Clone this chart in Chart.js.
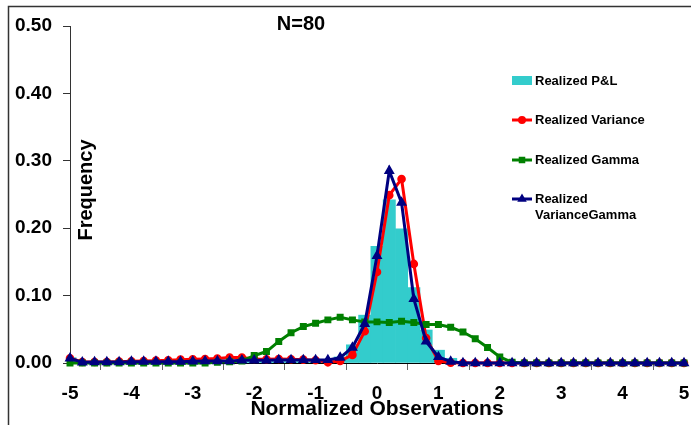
<!DOCTYPE html>
<html>
<head>
<meta charset="utf-8">
<script src="https://cdn.jsdelivr.net/npm/chart.js@4.4.1/dist/chart.umd.min.js"></script>
<style>
    body { margin: 0; background: #fff; }
    #wrap { position: relative; width: 691px; height: 425px; }
</style>
</head>
<body>
<div id="wrap"><canvas id="chartFreq" width="691" height="425"></canvas></div>
<script>
// bin centres (normalized observations)
const observations = [-5, -4.8, -4.6, -4.4, -4.2, -4, -3.8, -3.6, -3.4, -3.2, -3, -2.8, -2.6, -2.4, -2.2, -2,
    -1.8, -1.6, -1.4, -1.2, -1, -0.8, -0.6, -0.4, -0.2, 0, 0.2, 0.4, 0.6, 0.8, 1, 1.2, 1.4, 1.6, 1.8, 2,
    2.2, 2.4, 2.6, 2.8, 3, 3.2, 3.4, 3.6, 3.8, 4, 4.2, 4.4, 4.6, 4.8, 5];

const realizedPnl = [0.008, 0.001, 0.001, 0.001, 0.001, 0.001, 0.002, 0.002, 0.002, 0.002, 0.002, 0.002, 0.002, 0.002, 0.002, 0.002,
    0.002, 0.002, 0.002, 0.002, 0.002, 0.003, 0.009, 0.027, 0.071, 0.173, 0.242, 0.199, 0.112, 0.049, 0.019, 0.007, 0.002, 0.001, 0.001, 0.001,
    0.001, 0.001, 0, 0, 0, 0, 0, 0, 0, 0, 0, 0, 0, 0, 0];

const realizedVariance = [0.007, 0.0015, 0.0015, 0.0015, 0.002, 0.0025, 0.003, 0.0035, 0.004, 0.005, 0.0055, 0.006, 0.0065, 0.008, 0.008, 0.006,
    0.0055, 0.006, 0.0055, 0.005, 0.004, 0.001, 0.003, 0.012, 0.047, 0.135, 0.249, 0.273, 0.147, 0.037, 0.003, 0.0005, 0, 0, 0, 0,
    0, 0, 0, 0, 0, 0, 0, 0, 0, 0, 0, 0, 0, 0, 0];

const realizedGamma = [0, 0, 0, 0, 0, 0, 0, 0, 0, 0, 0, 0, 0.001, 0.002, 0.003, 0.011,
    0.017, 0.032, 0.045, 0.054, 0.059, 0.064, 0.068, 0.064, 0.061, 0.061, 0.060, 0.062, 0.060, 0.057, 0.057, 0.053, 0.046, 0.036, 0.023, 0.009,
    0.001, 0, 0, 0, 0, 0, 0, 0, 0, 0, 0, 0, 0, 0, 0];

const realizedVarianceGamma = [0.007, 0.001, 0.0015, 0.0015, 0.0015, 0.002, 0.002, 0.002, 0.002, 0.002, 0.0025, 0.003, 0.003, 0.003, 0.004, 0.004,
    0.004, 0.0045, 0.0045, 0.0045, 0.0045, 0.0045, 0.008, 0.023, 0.058, 0.159, 0.285, 0.238, 0.095, 0.032, 0.009, 0.002, 0, 0, 0, 0,
    0, 0, 0, 0, 0, 0, 0, 0, 0, 0, 0, 0, 0, 0, 0];

const sampleLabel = 'N=80';
const xTitle = 'Normalized Observations';
const yTitle = 'Frequency';

const FONT = "'Liberation Sans', Arial, sans-serif";

function toPoints(values) {
    return observations.map((x, i) => ({ x: x, y: values[i] }));
}

// marco, textos sueltos y leyenda dibujados a mano
const decorPlugin = {
    id: 'decor',
    beforeDraw(chart) {
        const ctx = chart.ctx;
        ctx.save();
        ctx.strokeStyle = '#333';
        ctx.lineWidth = 1.5;
        ctx.beginPath();
        ctx.moveTo(8.5, 425);
        ctx.lineTo(8.5, 6.5);
        ctx.lineTo(691, 6.5);
        ctx.stroke();
        ctx.restore();
    },
    afterDatasetsDraw(chart) {
        const ctx = chart.ctx;
        ctx.save();
        ctx.fillStyle = '#000';
        ctx.font = 'bold 20px ' + FONT;
        ctx.textAlign = 'center';
        ctx.textBaseline = 'middle';
        ctx.fillText(sampleLabel, 301, 24);

        ctx.save();
        ctx.translate(86, 190);
        ctx.rotate(-Math.PI / 2);
        ctx.fillText(yTitle, 0, 0);
        ctx.restore();

        // leyenda
        const rows = [120, 160, 199];
        ctx.font = 'bold 13px ' + FONT;
        ctx.textAlign = 'left';
        ctx.fillStyle = chart.data.datasets[0].backgroundColor;
        ctx.fillRect(512, 76, 20, 9);
        ctx.fillStyle = '#000';
        ctx.fillText(chart.data.datasets[0].label, 535, 81);

        chart.data.datasets.slice(1).forEach((ds, i) => {
            const y = rows[i];
            ctx.strokeStyle = ds.borderColor;
            ctx.lineWidth = 3;
            ctx.beginPath();
            ctx.moveTo(512, y);
            ctx.lineTo(532, y);
            ctx.stroke();
            ctx.fillStyle = ds.borderColor;
            Chart.helpers.drawPoint(ctx, { pointStyle: ds.pointStyle, radius: 2.5, borderWidth: 1 }, 522, y);
            ctx.fill();
            ctx.fillStyle = '#000';
            const lines = ds.legendLines || [ds.label];
            lines.forEach((t, j) => ctx.fillText(t, 535, y + j * 16));
        });
        ctx.restore();
    }
};

const ctx = document.getElementById('chartFreq').getContext('2d');
const chartFreq = new Chart(ctx, {
    data: {
        datasets: [
            {
                type: 'bar',
                label: 'Realized P&L',
                data: toPoints(realizedPnl),
                backgroundColor: '#33CCCC',
                borderWidth: 0,
                barPercentage: 1,
                categoryPercentage: 1,
                order: 4
            },
            {
                type: 'line',
                label: 'Realized Variance',
                data: toPoints(realizedVariance),
                borderColor: '#FF0000',
                backgroundColor: '#FF0000',
                borderWidth: 3,
                pointStyle: 'circle',
                pointRadius: 2.8,
                tension: 0,
                clip: 8,
                order: 3
            },
            {
                type: 'line',
                label: 'Realized Gamma',
                data: toPoints(realizedGamma),
                borderColor: '#008000',
                backgroundColor: '#008000',
                borderWidth: 3,
                pointStyle: 'rect',
                pointRadius: 2.8,
                tension: 0,
                clip: 8,
                order: 2
            },
            {
                type: 'line',
                label: 'Realized VarianceGamma',
                legendLines: ['Realized', 'VarianceGamma'],
                data: toPoints(realizedVarianceGamma),
                borderColor: '#000080',
                backgroundColor: '#000080',
                borderWidth: 3,
                pointStyle: 'triangle',
                pointRadius: 3.3,
                tension: 0,
                clip: 8,
                order: 1
            }
        ]
    },
    options: {
        responsive: false,
        animation: false,
        layout: { padding: { top: 26, right: 5, bottom: 0, left: 0 } },
        plugins: {
            legend: { display: false },
            tooltip: { enabled: false }
        },
        scales: {
            x: {
                type: 'linear',
                min: -5,
                max: 5,
                offset: false,
                ticks: {
                    stepSize: 1,
                    color: '#000',
                    padding: 12,
                    font: { family: FONT, size: 19, weight: 'bold' }
                },
                grid: { drawOnChartArea: false, drawTicks: true, tickLength: 7, color: '#666' },
                border: { display: true, color: '#000', width: 1 },
                title: {
                    display: true,
                    text: xTitle,
                    color: '#000',
                    padding: { top: 0, bottom: 3 },
                    font: { family: FONT, size: 21, weight: 'bold' }
                },
                afterFit(scale) {
                    scale.height = 62;
                    scale.paddingLeft = 0;
                    scale.paddingRight = 0;
                }
            },
            y: {
                min: 0,
                max: 0.5,
                ticks: {
                    stepSize: 0.1,
                    color: '#000',
                    padding: 11,
                    font: { family: FONT, size: 19, weight: 'bold' },
                    callback: v => v.toFixed(2)
                },
                grid: { drawOnChartArea: false, drawTicks: true, tickLength: 7, color: '#333' },
                border: { display: true, color: '#333', width: 1 },
                afterFit(scale) {
                    scale.width = 70;
                    scale.paddingTop = 0;
                    scale.paddingBottom = 0;
                }
            }
        }
    },
    plugins: [decorPlugin]
});
</script>
</body>
</html>
